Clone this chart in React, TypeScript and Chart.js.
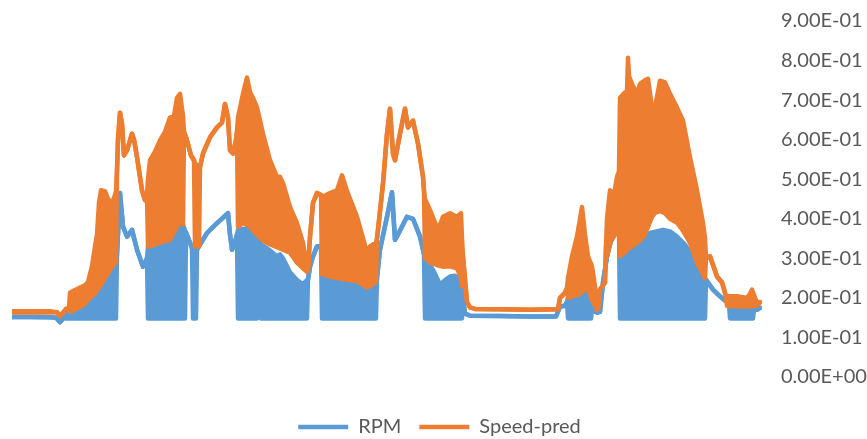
import { useEffect, useRef } from "react";
import { Chart, registerables } from "chart.js";

Chart.register(...registerables);

// ---- Data (time index, value) ----
const seriesNames = ["RPM", "Speed-pred"];

const rpmTime = [
  0, 18, 38, 44, 48, 51, 53, 54, 63, 73,
  83, 88, 93, 98, 104, 105, 108, 111, 115, 120,
  125, 131, 135, 136, 148, 158, 163, 168, 171, 173,
  174, 178, 180, 181, 184, 185, 195, 205, 216, 218,
  220, 224, 225, 226, 235, 240, 245, 246, 248, 249,
  258, 265, 268, 271, 278, 285, 291, 295, 296, 298,
  301, 305, 309, 310, 318, 328, 338, 348, 355, 360,
  364, 365, 368, 375, 380, 383, 386, 395, 401, 408,
  412, 413, 421, 428, 433, 438, 443, 446, 450, 451,
  453, 458, 488, 518, 544, 548, 553, 555, 556, 563,
  568, 575, 578, 579, 580, 585, 588, 591, 595, 600,
  606, 607, 608, 618, 625, 633, 638, 651, 658, 665,
  673, 678, 683, 688, 693, 694, 701, 708, 715, 717,
  718, 728, 738, 741, 742, 745, 748,
];

// upper envelope of the RPM trace
const rpmHigh = [
  0.152, 0.152, 0.151, 0.15, 0.139, 0.147, 0.155, 0.16, 0.17, 0.185,
  0.21, 0.23, 0.25, 0.27, 0.29, 0.31, 0.465, 0.38, 0.355, 0.372,
  0.322, 0.279, 0.3, 0.33, 0.34, 0.347, 0.37, 0.397, 0.385, 0.37,
  0.365, 0.34, 0.325, 0.322, 0.322, 0.322, 0.364, 0.389, 0.414, 0.36,
  0.322, 0.35, 0.36, 0.372, 0.376, 0.365, 0.347, 0.345, 0.34, 0.335,
  0.32, 0.305, 0.31, 0.3, 0.265, 0.245, 0.235, 0.245, 0.246, 0.279,
  0.305, 0.33, 0.33, 0.26, 0.254, 0.25, 0.245, 0.24, 0.226, 0.235,
  0.24, 0.25, 0.322, 0.405, 0.467, 0.347, 0.36, 0.405, 0.4, 0.355,
  0.31, 0.3, 0.271, 0.234, 0.245, 0.254, 0.256, 0.25, 0.221, 0.2,
  0.16, 0.155, 0.154, 0.153, 0.153, 0.178, 0.18, 0.19, 0.2, 0.205,
  0.21, 0.226, 0.21, 0.2, 0.17, 0.163, 0.165, 0.239, 0.305, 0.355,
  0.372, 0.37, 0.305, 0.325, 0.339, 0.355, 0.364, 0.372, 0.368, 0.355,
  0.335, 0.314, 0.295, 0.271, 0.25, 0.246, 0.221, 0.204, 0.189, 0.185,
  0.175, 0.175, 0.17, 0.175, 0.17, 0.17, 0.175,
];

// lower envelope of the RPM trace (oscillation floor)
const rpmLow = [
  0.152, 0.152, 0.151, 0.15, 0.139, 0.147, 0.155, 0.148, 0.148, 0.148,
  0.148, 0.148, 0.148, 0.148, 0.148, 0.31, 0.465, 0.38, 0.355, 0.372,
  0.322, 0.279, 0.3, 0.148, 0.148, 0.148, 0.148, 0.148, 0.148, 0.148,
  0.365, 0.34, 0.325, 0.148, 0.148, 0.322, 0.364, 0.389, 0.414, 0.36,
  0.322, 0.35, 0.36, 0.148, 0.148, 0.148, 0.148, 0.345, 0.34, 0.148,
  0.148, 0.148, 0.148, 0.148, 0.148, 0.148, 0.148, 0.148, 0.246, 0.279,
  0.305, 0.33, 0.33, 0.148, 0.148, 0.148, 0.148, 0.148, 0.148, 0.148,
  0.148, 0.25, 0.322, 0.405, 0.467, 0.347, 0.36, 0.405, 0.4, 0.355,
  0.31, 0.148, 0.148, 0.148, 0.148, 0.148, 0.148, 0.148, 0.148, 0.2,
  0.16, 0.155, 0.154, 0.153, 0.153, 0.178, 0.18, 0.19, 0.148, 0.148,
  0.148, 0.148, 0.148, 0.148, 0.17, 0.163, 0.165, 0.239, 0.305, 0.355,
  0.372, 0.37, 0.148, 0.148, 0.148, 0.148, 0.148, 0.148, 0.148, 0.148,
  0.148, 0.148, 0.148, 0.148, 0.148, 0.246, 0.221, 0.204, 0.189, 0.185,
  0.148, 0.148, 0.148, 0.148, 0.17, 0.17, 0.175,
];

const speedTime = [
  0, 18, 38, 45, 48, 51, 54, 57, 58, 63,
  68, 73, 76, 80, 83, 85, 87, 89, 93, 96,
  100, 103, 104, 105, 106, 108, 110, 112, 115, 120,
  122, 125, 130, 133, 135, 136, 138, 143, 148, 153,
  158, 162, 165, 168, 171, 172, 175, 179, 182, 183,
  187, 188, 191, 198, 205, 210, 213, 216, 218, 221,
  224, 225, 226, 231, 235, 238, 241, 245, 251, 258,
  265, 268, 271, 278, 285, 291, 295, 296, 298, 301,
  305, 309, 310, 318, 325, 330, 335, 345, 350, 355,
  358, 364, 365, 366, 371, 375, 378, 381, 383, 388,
  393, 396, 401, 406, 411, 412, 413, 418, 426, 431,
  438, 445, 449, 450, 451, 455, 458, 463, 488, 518,
  546, 548, 553, 555, 556, 560, 565, 568, 570, 573,
  576, 580, 583, 585, 586, 588, 593, 594, 595, 598,
  602, 605, 607, 608, 613, 615, 616, 617, 620, 625,
  628, 633, 636, 640, 643, 648, 653, 658, 665, 671,
  678, 685, 691, 693, 694, 698, 705, 710, 714, 715,
  725, 735, 738, 740, 743, 745, 748,
];

const speedHigh = [
  0.166, 0.166, 0.166, 0.164, 0.154, 0.162, 0.172, 0.176, 0.213, 0.22,
  0.226, 0.232, 0.24, 0.28, 0.33, 0.36, 0.44, 0.472, 0.47, 0.45,
  0.44, 0.46, 0.47, 0.52, 0.6, 0.668, 0.64, 0.56, 0.573, 0.615,
  0.6, 0.556, 0.472, 0.447, 0.46, 0.5, 0.548, 0.57, 0.598, 0.62,
  0.656, 0.66, 0.706, 0.716, 0.66, 0.62, 0.598, 0.56, 0.548, 0.54,
  0.531, 0.531, 0.565, 0.606, 0.631, 0.643, 0.69, 0.656, 0.573, 0.565,
  0.6, 0.62, 0.656, 0.716, 0.757, 0.72, 0.706, 0.681, 0.615, 0.548,
  0.506, 0.506, 0.49, 0.43, 0.389, 0.339, 0.279, 0.27, 0.355, 0.44,
  0.465, 0.46, 0.455, 0.465, 0.472, 0.51, 0.47, 0.405, 0.36, 0.314,
  0.33, 0.34, 0.35, 0.372, 0.489, 0.615, 0.678, 0.565, 0.548, 0.615,
  0.678, 0.631, 0.648, 0.59, 0.506, 0.47, 0.45, 0.422, 0.372, 0.405,
  0.414, 0.405, 0.414, 0.35, 0.305, 0.189, 0.176, 0.172, 0.171, 0.17,
  0.171, 0.2, 0.213, 0.225, 0.25, 0.305, 0.355, 0.4, 0.43, 0.36,
  0.305, 0.28, 0.229, 0.19, 0.171, 0.221, 0.239, 0.33, 0.4, 0.472,
  0.46, 0.506, 0.52, 0.706, 0.72, 0.72, 0.807, 0.76, 0.741, 0.716,
  0.741, 0.75, 0.754, 0.681, 0.681, 0.749, 0.745, 0.716, 0.681, 0.648,
  0.556, 0.472, 0.389, 0.35, 0.3, 0.305, 0.254, 0.239, 0.204, 0.204,
  0.204, 0.2, 0.21, 0.221, 0.2, 0.189, 0.189,
];

const speedLow = [
  0.163, 0.163, 0.163, 0.164, 0.154, 0.162, 0.172, 0.17, 0.165, 0.17,
  0.177, 0.185, 0.195, 0.205, 0.21, 0.22, 0.225, 0.232, 0.25, 0.262,
  0.278, 0.288, 0.29, 0.52, 0.6, 0.668, 0.64, 0.56, 0.573, 0.615,
  0.6, 0.556, 0.472, 0.447, 0.46, 0.33, 0.33, 0.335, 0.34, 0.343,
  0.347, 0.365, 0.38, 0.397, 0.385, 0.62, 0.598, 0.56, 0.548, 0.33,
  0.33, 0.531, 0.565, 0.606, 0.631, 0.643, 0.69, 0.656, 0.573, 0.565,
  0.6, 0.62, 0.38, 0.389, 0.385, 0.38, 0.37, 0.36, 0.345, 0.335,
  0.328, 0.325, 0.322, 0.314, 0.289, 0.275, 0.266, 0.27, 0.355, 0.44,
  0.465, 0.46, 0.26, 0.254, 0.25, 0.248, 0.246, 0.242, 0.235, 0.226,
  0.23, 0.24, 0.35, 0.372, 0.489, 0.615, 0.678, 0.565, 0.548, 0.615,
  0.678, 0.631, 0.648, 0.59, 0.506, 0.47, 0.3, 0.29, 0.282, 0.279,
  0.28, 0.275, 0.25, 0.23, 0.305, 0.189, 0.176, 0.172, 0.171, 0.17,
  0.171, 0.2, 0.213, 0.225, 0.2, 0.203, 0.207, 0.21, 0.215, 0.222,
  0.222, 0.195, 0.18, 0.17, 0.171, 0.221, 0.239, 0.33, 0.305, 0.34,
  0.355, 0.37, 0.37, 0.305, 0.315, 0.322, 0.323, 0.325, 0.33, 0.339,
  0.345, 0.36, 0.38, 0.405, 0.415, 0.42, 0.414, 0.4, 0.39, 0.37,
  0.339, 0.289, 0.26, 0.25, 0.3, 0.305, 0.254, 0.239, 0.204, 0.18,
  0.178, 0.178, 0.178, 0.18, 0.18, 0.18, 0.189,
];

const timeMin = 0;
const timeMax = 750;
const yMin = 0;
const yMax = 0.9;
const yStep = 0.1;

function toPoints(t: number[], v: number[]) {
  return t.map((x, i) => ({ x, y: v[i] }));
}

function sciLabel(v: number): string {
  const [mant, exp] = Number(v).toExponential(2).split("e");
  const n = parseInt(exp, 10);
  const sign = n < 0 ? "-" : "+";
  return `${mant}E${sign}${String(Math.abs(n)).padStart(2, "0")}`;
}

export default function App() {
  const ref = useRef<HTMLCanvasElement | null>(null);

  useEffect(() => {
    if (!ref.current) return;
    const BLUE = "#5B9BD5";
    const ORANGE = "#ED7D31";
    const TEXT = "#595959";
    const FONT = "Lato";

    const mk = (label: string, data: any[], color: string, order: number, fill: any) => ({
      label,
      data,
      borderColor: color,
      backgroundColor: color,
      borderWidth: 4.5,
      pointRadius: 0,
      pointHoverRadius: 0,
      tension: 0,
      fill,
      order,
      borderJoinStyle: "round" as const,
      borderCapStyle: "round" as const,
    });

    const chart = new Chart(ref.current, {
      type: "line",
      data: {
        datasets: [
          mk(seriesNames[0], toPoints(rpmTime, rpmHigh), BLUE, 1, false),
          mk("", toPoints(rpmTime, rpmLow), BLUE, 1, "-1"),
          mk(seriesNames[1], toPoints(speedTime, speedHigh), ORANGE, 0, false),
          mk("", toPoints(speedTime, speedLow), ORANGE, 0, "-1"),
        ] as any,
      },
      options: {
        responsive: false,
        animation: false,
        events: [],
        layout: { padding: { left: 12, top: 21, right: 0, bottom: -8 } },
        scales: {
          x: {
            type: "linear",
            min: timeMin,
            max: timeMax,
            display: true,
            grid: { display: false, drawTicks: false },
            border: { display: false },
            ticks: { display: false },
            afterFit: (s: any) => {
              s.height = 22;
            },
          },
          y: {
            position: "right",
            min: yMin,
            max: yMax,
            grid: {
              display: true,
              drawOnChartArea: false,
              drawTicks: true,
              tickLength: 19,
              color: "rgba(0,0,0,0)",
            },
            border: { display: false },
            ticks: {
              stepSize: yStep,
              padding: 0,
              color: TEXT,
              font: { family: FONT, size: 20 },
              callback: (v: any) => sciLabel(Number(v)),
            },
            afterFit: (s: any) => {
              s.width = 105;
            },
          },
        },
        plugins: {
          tooltip: { enabled: false },
          legend: {
            position: "bottom",
            labels: {
              usePointStyle: true,
              pointStyle: "line",
              pointStyleWidth: 50,
              padding: 18,
              color: TEXT,
              font: { family: FONT, size: 20 },
              filter: (item: any) => item.text !== "",
              sort: (a: any, b: any) => a.datasetIndex - b.datasetIndex,
            },
          },
        },
      } as any,
    });
    return () => chart.destroy();
  }, []);

  return (
    <div style={{ position: "absolute", left: 0, top: 0, width: 867, height: 439, background: "#fff" }}>
      <canvas ref={ref} width={867} height={439} style={{ display: "block" }} />
    </div>
  );
}
